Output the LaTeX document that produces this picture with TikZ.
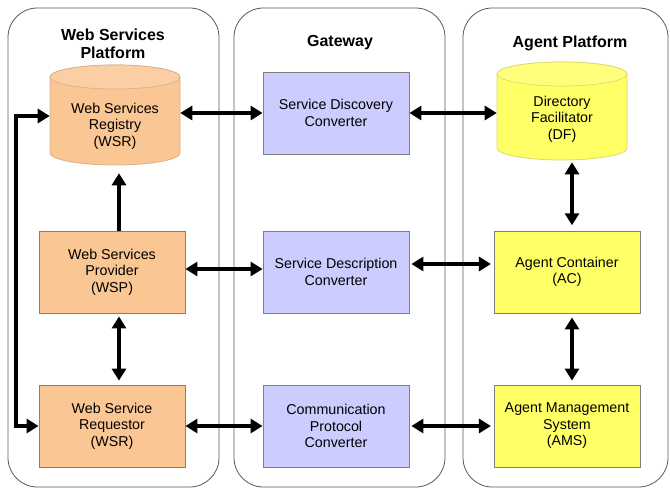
\documentclass[tikz,border=0pt]{standalone}
\usepackage{fontspec}
\setmainfont{Liberation Sans}
\usetikzlibrary{arrows.meta}
\definecolor{orangefill}{HTML}{FAC693}
\definecolor{purplefill}{HTML}{CCCCFF}
\definecolor{yellowfill}{HTML}{FFFF66}
\definecolor{boxedge}{HTML}{7F7F7F}
\definecolor{paneledge}{HTML}{595959}
\begin{document}
\begin{tikzpicture}[x=0.75pt,y=-0.75pt,
  panel/.style={draw=paneledge,line width=0.6pt,rounded corners=22pt},
  title/.style={font=\fontsize{12}{13.5}\selectfont\bfseries,align=center,inner sep=0},
  box/.style={draw=boxedge,line width=0.6pt,minimum width=109.5pt,minimum height=61.5pt,inner sep=0,align=center,font=\fontsize{10.7}{12.4}\selectfont,execute at begin node={\rule{0pt}{12.5pt}}},
  lbl/.style={align=center,inner sep=0,font=\fontsize{10.7}{12.4}\selectfont},
  ghost/.style={inner sep=0,minimum width=97.5pt,minimum height=73.5pt},
  dbl/.style={line width=2.6pt,{Triangle[length=9pt,width=10.5pt]}-{Triangle[length=9pt,width=10.5pt]}},
  sgl/.style={line width=2.6pt,-{Triangle[length=9pt,width=10.5pt]}}]
\useasboundingbox (0,0) rectangle (670,489);
% panels
\draw[panel] (8,8) rectangle (219,487);
\draw[panel] (234,8) rectangle (445,487);
\draw[panel] (463,8) rectangle (668,487);
% titles
\node[title] (t1) at (113,44) {Web Services\\Platform};
\node[title] (t2) at (340,43) {Gateway};
\node[title] (t3) at (570,43) {Agent Platform};
% cylinder WSR
\draw[draw=orangefill!70!gray,fill=orangefill,line width=0.6pt]
  (50,77) -- (50,153) arc (180:360:48.75pt and 9pt) -- (180,77) arc (0:180:48.75pt and 9pt) -- cycle;
\draw[draw=orangefill!70!gray,line width=0.5pt,fill=orangefill!85!white]
  (115,77) ellipse (48.75pt and 9pt);
\node[ghost] (wsr) at (115,116) {};
\node[lbl] (wsrlabel) at (115,126) {Web Services\\Registry\\(WSR)};
% cylinder DF
\draw[draw=yellowfill!70!gray,fill=yellowfill,line width=0.6pt]
  (497,74) -- (497,148) arc (180:360:48.75pt and 9pt) -- (627,74) arc (0:180:48.75pt and 9pt) -- cycle;
\draw[draw=yellowfill!70!gray,line width=0.5pt,fill=yellowfill!85!white]
  (562,74) ellipse (48.75pt and 9pt);
\node[ghost] (df) at (562,111) {};
\node[lbl] (dflabel) at (562,119) {Directory\\Facilitator\\(DF)};
% boxes
\node[box,fill=purplefill] (sdc) at (336,113) {Service Discovery\\Converter};
\node[box,fill=purplefill] (sdesc) at (336,272) {Service Description\\Converter};
\node[box,fill=purplefill] (cpc) at (336,426) {Communication\\Protocol\\Converter};
\node[box,fill=orangefill] (wsp) at (112,272) {Web Services\\Provider\\(WSP)};
\node[box,fill=orangefill] (wsrq) at (112,426) {Web Service\\Requestor\\(WSR)};
\node[box,fill=yellowfill] (ac) at (567,272) {Agent Container\\(AC)};
\node[box,fill=yellowfill] (ams) at (567,426) {Agent Management\\System\\(AMS)};
% arrows row 1
\draw[dbl] (sdc.west) -- (sdc.west -| wsr.east);
\draw[dbl] (sdc.east) -- (sdc.east -| df.west);
% row 2
\draw[dbl] ([yshift=2.25pt]wsp.east) -- ([yshift=2.25pt]sdesc.west);
\draw[dbl,shorten <=1.5pt,shorten >=2pt] ([yshift=6pt]sdesc.east) -- ([yshift=6pt]ac.west);
% row 3
\draw[dbl] (wsrq.east) -- (cpc.west);
\draw[dbl,shorten <=1.5pt,shorten >=2pt] (cpc.east) -- (ams.west);
% verticals
\draw[sgl,shorten >=6pt] ([xshift=5.25pt]wsp.north) -- ([xshift=5.25pt]wsp.north |- wsr.south);
\draw[dbl,shorten <=2.25pt,shorten >=3pt] ([xshift=5.25pt]wsp.south) -- ([xshift=5.25pt]wsrq.north);
\draw[dbl,shorten <=1.5pt,shorten >=4pt] ([xshift=3.75pt]df.south -| ac.north) -- ([xshift=3.75pt]ac.north);
\draw[dbl,shorten <=3pt,shorten >=3pt] ([xshift=3.75pt]ac.south) -- ([xshift=3.75pt]ams.north);
% loop
\coordinate (loopx) at (16,0);
\draw[dbl,line width=2.4pt] (wsrq.west) -- (wsrq.west -| loopx) |- (wsr.west);
\end{tikzpicture}
\end{document}
